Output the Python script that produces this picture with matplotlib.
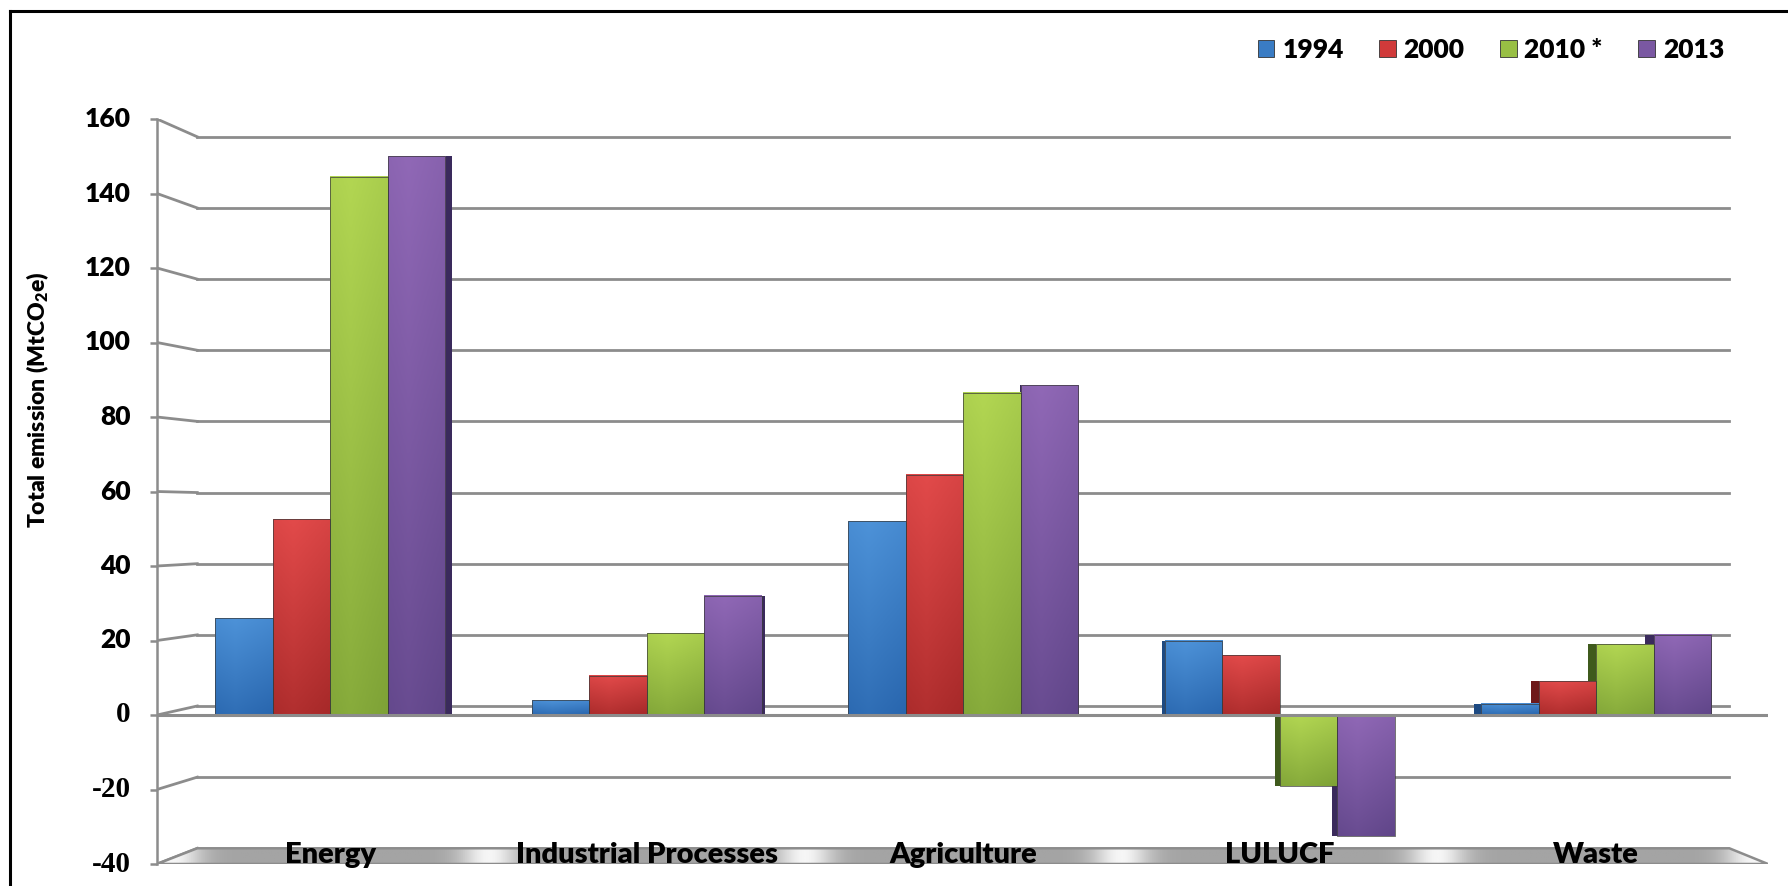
import numpy as np
import matplotlib
matplotlib.use('Agg')
import matplotlib.pyplot as plt
from matplotlib.patches import Patch, Polygon
from matplotlib.colors import LinearSegmentedColormap
from matplotlib.lines import Line2D

plt.rcParams['font.family'] = ['Lato', 'DejaVu Sans']
plt.rcParams['mathtext.fontset'] = 'custom'
plt.rcParams['mathtext.bf'] = 'Lato:heavy'
plt.rcParams['mathtext.rm'] = 'Lato'

# datos
categories = ['Energy', 'Industrial Processes', 'Agriculture', 'LULUCF', 'Waste']
years = ['1994', '2000', '2010 *', '2013']
v1994 = [26, 4, 52, 20, 3]
v2000 = [52.5, 10.5, 64.5, 16, 9]
v2010 = [144.5, 22, 86.5, -19, 19]
v2013 = [150, 32, 88.5, -32.5, 21.5]
yticks = [-40, -20, 0, 20, 40, 60, 80, 100, 120, 140, 160]

series = [v1994, v2000, v2010, v2013]
c_top = ['#4d92d8', '#e24a4a', '#b2d652', '#9068b6']
c_bot = ['#2865ad', '#a52828', '#7da136', '#5f4588']
c_mid = ['#3a7cc4', '#d03a3a', '#98bf44', '#7a58a2']
c_side = ['#1d4a82', '#6e1a1a', '#3f5a1c', '#3a2a5c']
GRID = '#8c8c8c'
WEIGHT = 'heavy'

W, H = 1788, 886
fig = plt.figure(figsize=(W / 100, H / 100), dpi=100)

# marco
fig.add_artist(Line2D([10 / W, 1], [1 - 11 / H] * 2, color='black', lw=2.2))
fig.add_artist(Line2D([10 / W] * 2, [0, 1 - 11 / H], color='black', lw=2.2))

ax = fig.add_axes([157 / W, 1 - 864 / H, (1768 - 157) / W, (864 - 119) / H])
xlim = (-0.547, 4.543)
ylim = (yticks[0], yticks[-1])

# pared trasera (perspectiva 3D)
BX0, BX1 = 0.025, 0.976
def back(t):
    return 2.42 + 0.955 * t

tr = ax.get_yaxis_transform()
for t in yticks[1:]:
    ax.plot([BX0, BX1], [back(t), back(t)], color=GRID, lw=2.0, transform=tr, zorder=1)
    ax.plot([0, BX0], [t, back(t)], color=GRID, lw=2.0, transform=tr, zorder=1)
ax.plot([0, BX0], [yticks[0], back(yticks[0])], color=GRID, lw=2.0, transform=tr, zorder=1)

# piso
floor = Polygon([(0, yticks[0]), (BX0, back(yticks[0])), (BX1, back(yticks[0])), (1, yticks[0])],
                closed=True, transform=tr, facecolor='none', edgecolor=GRID, lw=1.8, zorder=2.1)
ax.add_patch(floor)
xs = np.linspace(xlim[0], xlim[1], 800)
frac = (xs + 0.5) % 1
d = np.minimum(frac, 1 - frac)
light = np.exp(-(d / 0.09) ** 2).reshape(1, -1)
floor_cmap = LinearSegmentedColormap.from_list('floor', ['#a4a4a4', '#f6f6f6'])
im = ax.imshow(light, extent=(xlim[0], xlim[1], yticks[0], back(yticks[0])), cmap=floor_cmap,
               aspect='auto', origin='lower', zorder=2, vmin=0, vmax=1)
im.set_clip_path(floor)

# barras
x = np.arange(len(categories))
bw = 0.1817
VP = 2.0        # punto de fuga horizontal
DEPTH = 0.0127  # ancho de la cara lateral por unidad de distancia al punto de fuga
for k, vals in enumerate(series):
    xc = x + (k - 1.5) * bw
    # cara lateral (la que mira hacia el centro)
    side = DEPTH * np.abs(xc - VP)
    side_x = np.where(xc < VP, xc + bw / 2, xc - bw / 2 - side)
    ax.bar(side_x, vals, side, align='edge', color=c_side[k], linewidth=0, zorder=2.9)

    bars = ax.bar(xc, vals, bw, color=c_mid[k], edgecolor='#3a3a3a', linewidth=0.5, zorder=3)
    cmap = LinearSegmentedColormap.from_list('b%d' % k, [c_bot[k], c_top[k]])
    ty = np.linspace(0, 1, 120).reshape(-1, 1)
    tx = np.linspace(0, 1, 40).reshape(1, -1)
    grad = 0.8 * ty + 0.2 * (1 - np.abs(tx - 0.35) * 1.4)
    for r in bars:
        x0, y0, w, h = r.get_x(), r.get_y(), r.get_width(), r.get_height()
        ax.imshow(grad, extent=(x0, x0 + w, min(y0, y0 + h), max(y0, y0 + h)), origin='lower',
                  cmap=cmap, aspect='auto', zorder=3.1, vmin=0, vmax=1)
        r.set_facecolor('none')
        r.set_zorder(3.2)

# linea cero frontal
ax.axhline(0, color=GRID, lw=2.2, zorder=4)

ax.set_xlim(*xlim)
ax.set_ylim(*ylim)
ax.set_yticks(yticks)
ax.tick_params(axis='y', length=5, width=1.8, color=GRID, labelleft=False)
ax.tick_params(axis='x', bottom=False, labelbottom=False)
# etiquetas del eje (las negativas y el cero salen en serif en el original)
for t in yticks:
    if t <= 0:
        fam, size, wt = ['Liberation Serif', 'DejaVu Serif', 'serif'], 21, 'bold'
    else:
        fam, size, wt = ['Lato', 'DejaVu Sans'], 19, WEIGHT
    ax.annotate(str(t), xy=(0, t), xycoords=('axes fraction', 'data'), xytext=(-19, 0),
                textcoords='offset points', ha='right', va='center', family=fam,
                fontsize=size, fontweight=wt, annotation_clip=False)
for s in ['top', 'right', 'bottom']:
    ax.spines[s].set_visible(False)
ax.spines['left'].set_color(GRID)
ax.spines['left'].set_linewidth(1.8)
ax.patch.set_alpha(0)

for i, name in enumerate(categories):
    ax.text(x[i], yticks[0] + 0.3, name, ha='center', va='baseline', fontsize=21,
            fontweight=WEIGHT, zorder=5)

fig.text(38 / W, 1 - 400 / H, r'Total emission (MtCO$_\mathbf{2}$e)', rotation=90,
         ha='center', va='center', fontsize=16.5, fontweight=WEIGHT)

handles = [Patch(facecolor=c, edgecolor='#333333', lw=0.6) for c in c_mid]
fig.legend(handles, years, loc='center right', bbox_to_anchor=(1724 / W, 1 - 50 / H), ncol=4,
           frameon=False, prop=dict(weight=WEIGHT, size=19), handlelength=0.62,
           handleheight=0.62, handletextpad=0.3, columnspacing=1.35, borderpad=0,
           borderaxespad=0)

fig.savefig('out.png', dpi=100)
